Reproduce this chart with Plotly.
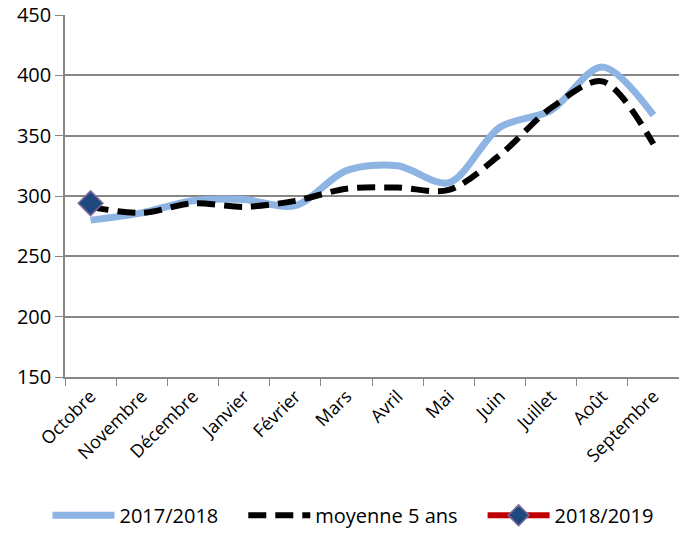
import plotly.graph_objects as go

months = ["Octobre", "Novembre", "Décembre", "Janvier", "Février", "Mars",
          "Avril", "Mai", "Juin", "Juillet", "Août", "Septembre"]
s_2017_2018 = [280, 286, 296, 297, 292, 321, 325, 311, 357, 371, 407, 367]
moyenne_5ans = [291, 286, 294, 291, 296, 306, 307, 305, 334, 373, 395, 343]
s_2018_2019 = [294]
y_ticks = [150, 200, 250, 300, 350, 400, 450]

font_family = "Open Sans"
gap = "\u2003"  # extra spacing after legend entries

fig = go.Figure()
fig.add_trace(go.Scatter(
    x=months, y=s_2017_2018, name="2017/2018" + gap, mode="lines",
    line=dict(color="#8EB4E3", width=7, shape="spline", smoothing=0.9),
))
fig.add_trace(go.Scatter(
    x=months, y=moyenne_5ans, name="moyenne 5 ans" + gap, mode="lines",
    line=dict(color="#000000", width=6, shape="spline", smoothing=0.9, dash="18px,9px"),
))
fig.add_trace(go.Scatter(
    x=months[:len(s_2018_2019)], y=s_2018_2019, name="2018/2019", mode="lines+markers",
    line=dict(color="#C00000", width=6),
    marker=dict(symbol="diamond", size=19, color="#1F497D",
                line=dict(color="#7F6A9F", width=1.5)),
))

fig.update_layout(
    width=679, height=535,
    margin=dict(l=65, r=0, t=15, b=156),
    paper_bgcolor="white", plot_bgcolor="white",
    font=dict(family=font_family, size=18, color="#000000"),
    showlegend=True,
    legend=dict(orientation="h", x=0.469, xanchor="center", y=-0.382, yanchor="middle",
                font=dict(size=20), itemwidth=62, traceorder="normal"),
    xaxis=dict(
        type="category", range=[-0.5, 11.5], tickangle=-45, automargin=False,
        showline=True, linecolor="#868686", linewidth=1.5,
        ticks="outside", ticklen=7, tickcolor="#868686", tickson="boundaries",
        showgrid=False, tickfont=dict(size=18),
    ),
    yaxis=dict(
        range=[150, 450], tickvals=y_ticks, automargin=False,
        ticklabeloverflow="allow",
        showline=True, linecolor="#868686", linewidth=1.5,
        ticks="outside", ticklen=8, tickcolor="#868686",
        showgrid=True, gridcolor="#868686", gridwidth=1.5,
        zeroline=False, tickfont=dict(size=20),
    ),
)

# remove the default 8px page margin so the figure fills the window exactly
fig.write_html("out.html",
               config={"displayModeBar": False},
               post_script="document.body.style.margin='0';document.body.style.overflow='hidden';")
